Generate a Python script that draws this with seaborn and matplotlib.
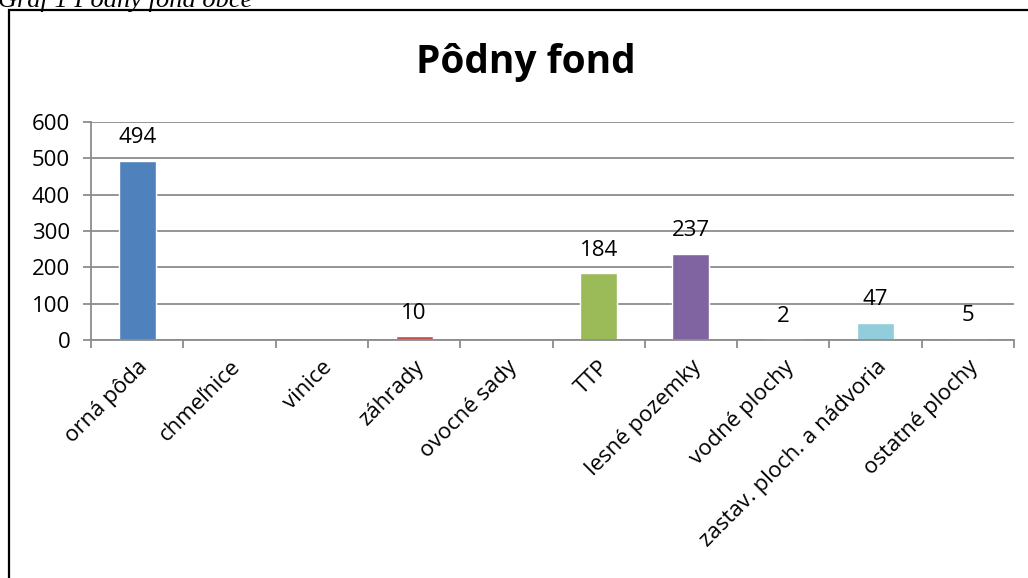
import matplotlib
matplotlib.use("Agg")
import matplotlib.pyplot as plt
import seaborn as sns
import pandas as pd
from matplotlib.patches import Rectangle

categories = ["orná pôda", "chmeľnice", "vinice", "záhrady", "ovocné sady",
              "TTP", "lesné pozemky", "vodné plochy",
              "zastav. ploch. a nádvoria", "ostatné plochy"]
values = [494, 0, 0, 10, 0, 184, 237, 2, 47, 5]
labels = ["494", "", "", "10", "", "184", "237", "2", "47", "5"]
colors = ["#4f81bd", "#c0504d", "#9bbb59", "#c0504d", "#8064a2",
          "#9bbb59", "#8064a2", "#a89b6a", "#92cddc", "#f79646"]

sns.set_theme(style="white")
plt.rcParams["font.family"] = ["Open Sans", "DejaVu Sans"]
plt.rcParams["text.color"] = "black"
plt.rcParams["xtick.color"] = "black"
plt.rcParams["ytick.color"] = "black"

W, H = 1028, 578
fig = plt.figure(figsize=(W / 100, H / 100), dpi=100)
ax = fig.add_axes([91 / W, 1 - 340 / H, (1014 - 91) / W, (340 - 122) / H])

df = pd.DataFrame({"kat": categories, "hodnota": values})
sns.barplot(data=df, x="kat", y="hodnota", hue="kat", palette=colors,
            width=0.4, legend=False, ax=ax, saturation=1)

ax.set_ylim(0, 600)
ax.set_xlim(-0.5, len(categories) - 0.5)
ax.set_yticks(range(0, 601, 100))
ax.yaxis.grid(True, color="#8c8c8c", linewidth=1.3)
ax.set_axisbelow(True)
ax.set_xlabel(None)
ax.set_ylabel(None)
for s in ["top", "right"]:
    ax.spines[s].set_visible(False)
for s in ["left", "bottom"]:
    ax.spines[s].set_color("#8c8c8c")
    ax.spines[s].set_linewidth(1.3)

ax.set_xticks(range(len(categories)))
ax.set_xticklabels(categories, rotation=45, ha="right", rotation_mode="anchor",
                   fontsize=16)
ax.set_xticks([i - 0.5 for i in range(len(categories) + 1)], minor=True)
ax.tick_params(axis="x", which="major", length=0, pad=12, labelcolor="black")
ax.tick_params(axis="x", which="minor", length=6, width=1.3, color="#8c8c8c",
               direction="out", bottom=True)
ax.tick_params(axis="y", length=6, width=1.3, color="#8c8c8c", direction="out",
               left=True, labelsize=16, pad=9, labelcolor="black")

for i, (v, t) in enumerate(zip(values, labels)):
    if t:
        ax.annotate(t, (i, v), xytext=(0, 9), textcoords="offset points",
                    ha="center", va="bottom", fontsize=16, color="black")

fig.text(526 / W, 1 - 62 / H, "Pôdny fond", ha="center", va="center",
         fontsize=28, fontweight="bold", color="black")

fig.text(-2 / W, 1 - 7 / H, "Graf 1 Pôdny fond obce", ha="left", va="baseline",
         fontsize=19, fontstyle="italic", family=["Liberation Serif"],
         color="black")

fig.add_artist(Rectangle((9 / W, -0.1), 1.2, 1 - 10 / H + 0.1,
                         transform=fig.transFigure, fill=False,
                         edgecolor="black", linewidth=1.6))

fig.savefig("out.png", dpi=100)
